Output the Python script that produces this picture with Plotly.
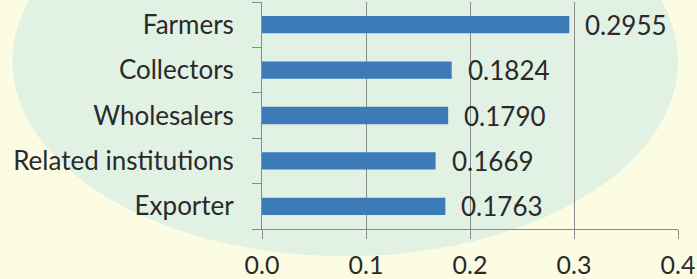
import plotly.graph_objects as go

categories = ["Farmers", "Collectors", "Wholesalers", "Related institutions", "Exporter"]
values = [0.2955, 0.1824, 0.1790, 0.1669, 0.1763]
value_labels = ["0.2955", "0.1824", "0.1790", "0.1669", "0.1763"]
x_ticks = [0.0, 0.1, 0.2, 0.3, 0.4]
x_tick_labels = ["0.0", "0.1", "0.2", "0.3", "0.4"]

FONT = "Lato, 'Liberation Sans', sans-serif"
FS = 26

fig = go.Figure()
fig.add_trace(go.Bar(
    x=values, y=categories, orientation="h",
    marker=dict(color="#3d7ab8", line=dict(width=0)),
    hoverinfo="skip",
))

for c, v, t in zip(categories, values, value_labels):
    fig.add_annotation(x=v, y=c, text=t, showarrow=False, xanchor="left",
                       xshift=14, font=dict(family=FONT, size=FS, color="#2a2a2a"))

# faint watermark-like background tint
fig.add_shape(type="circle", xref="paper", yref="paper", layer="below",
              x0=-0.6, x1=1.0, y0=-0.12, y1=1.6,
              fillcolor="#dcefe3", line=dict(width=0), opacity=0.85)

fig.update_layout(
    width=697, height=279,
    margin=dict(l=262, r=19, t=2, b=50),
    paper_bgcolor="#fcfce3",
    plot_bgcolor="rgba(0,0,0,0)",
    bargap=0.62,
    showlegend=False,
    font=dict(family=FONT, size=FS, color="#2a2a2a"),
    xaxis=dict(
        range=[0, 0.4], tickvals=x_ticks, ticktext=x_tick_labels,
        showgrid=True, gridcolor="#8a8a8a", gridwidth=1,
        showline=True, linecolor="#8a8a8a", linewidth=1,
        ticks="outside", ticklen=9, tickcolor="#8a8a8a",
        ticklabelstandoff=5, zeroline=False, automargin=False,
        tickfont=dict(family=FONT, size=25, color="#2a2a2a"),
    ),
    yaxis=dict(
        type="category", categoryorder="array", categoryarray=categories[::-1],
        showline=True, linecolor="#8a8a8a", linewidth=1,
        ticks="outside", ticklen=9, tickcolor="#8a8a8a", tickson="boundaries",
        ticklabelstandoff=22, showgrid=False, automargin=False,
        tickfont=dict(family=FONT, size=FS, color="#2a2a2a"),
    ),
)

fig.write_html("out.html", config={"displayModeBar": False},
               post_script="document.body.style.margin='0';")
